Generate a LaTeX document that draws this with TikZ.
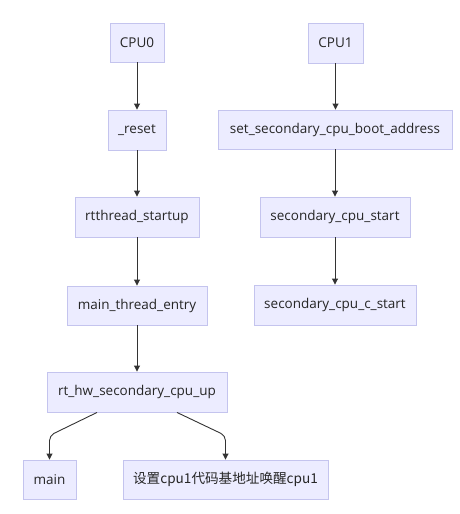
\documentclass[tikz,border=0pt]{standalone}
\usepackage{fontspec}
\setmainfont{Open Sans}
\newfontfamily\cjk{Noto Sans CJK SC}
\usetikzlibrary{arrows.meta,calc}
\definecolor{boxfill}{HTML}{ECECFF}
\definecolor{boxline}{HTML}{C4C4EE}
\definecolor{edgecol}{HTML}{333333}
\tikzset{
  box/.style={draw=boxline, fill=boxfill, line width=0.9pt, inner sep=0pt, align=center,
    font=\fontsize{13.5}{15}\selectfont, text=black!85},
  flow/.style={draw=edgecol, line width=0.9pt, -{Triangle[length=6pt,width=6pt]}, rounded corners=5pt}
}
\begin{document}
\begin{tikzpicture}[x=1pt,y=-1pt]
\fill[white] (0,0) rectangle (460,514);
\useasboundingbox (0,0) rectangle (460,514);
\node[box, minimum width=54pt, minimum height=39pt] (cpu0) at (137,42.5) {CPU0};
\node[box, minimum width=58pt, minimum height=40pt] (reset) at (137,130) {\_reset};
\node[box, minimum width=124pt, minimum height=40pt] (rtt) at (137,217) {rtthread\_startup};
\node[box, minimum width=140pt, minimum height=39pt] (mte) at (137,305.5) {main\_thread\_entry};
\node[box, minimum width=180pt, minimum height=40pt] (rthw) at (137,392) {rt\_hw\_secondary\_cpu\_up};
\node[box, minimum width=53pt, minimum height=39pt] (main) at (49.5,479.5) {main};
\node[box, minimum width=205pt, minimum height=39pt] (cn) at (225.5,479.5) {\cjk\fontsize{13.6}{15}\selectfont 设置cpu1代码基地址唤醒cpu1};
\node[box, minimum width=55pt, minimum height=40pt] (cpu1) at (335.5,43) {CPU1};
\node[box, minimum width=234pt, minimum height=39pt] (setb) at (335,129.5) {set\_secondary\_cpu\_boot\_address};
\node[box, minimum width=150pt, minimum height=40pt] (sst) at (335,217) {secondary\_cpu\_start};
\node[box, minimum width=162pt, minimum height=40pt] (scs) at (335,305) {secondary\_cpu\_c\_start};
\draw[flow] (cpu0) -- (reset);
\draw[flow] (reset) -- (rtt);
\draw[flow] (rtt) -- (mte);
\draw[flow] (mte) -- (rthw);
\draw[flow] (cpu1.south) -- (cpu1.south |- setb.north);
\draw[flow] (setb) -- (sst);
\draw[flow] (sst) -- (scs);
\draw[flow] ($(rthw.south)+(-40,0)$) -- ($(main.north)+(0,-24)$) -- (main.north);
\draw[flow] ($(rthw.south)+(40,0)$) -- ($(main.north -| cn.north)+(0,-24)$) -- (cn.north);
\end{tikzpicture}
\end{document}
